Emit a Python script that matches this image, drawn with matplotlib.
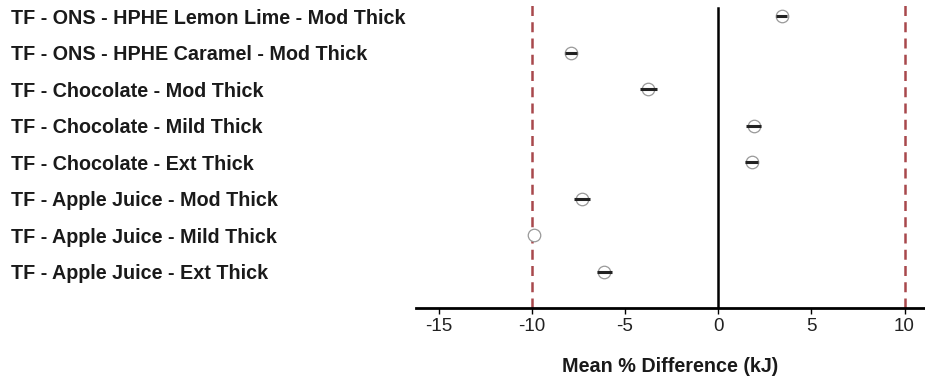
import matplotlib.pyplot as plt

# rows listed bottom to top
labels = [
    "TF - Apple Juice - Ext Thick",
    "TF - Apple Juice - Mild Thick",
    "TF - Apple Juice - Mod Thick",
    "TF - Chocolate - Ext Thick",
    "TF - Chocolate - Mild Thick",
    "TF - Chocolate - Mod Thick",
    "TF - ONS - HPHE Caramel - Mod Thick",
    "TF - ONS - HPHE Lemon Lime - Mod Thick",
]
mean_diff = [-6.1, -9.9, -7.3, 1.8, 1.9, -3.75, -7.9, 3.4]
err = [0.4, 0.0, 0.45, 0.35, 0.4, 0.45, 0.3, 0.3]
limits = [-10, 10]
xticks = [-15, -10, -5, 0, 5, 10]

plt.rcParams['font.family'] = ['Liberation Sans', 'DejaVu Sans']

fig = plt.figure(figsize=(9.25, 3.9), dpi=100)
ax = fig.add_axes([0.45, 0.21, 0.55, 0.79])

ypos = list(range(len(labels)))

for lim in limits:
    ax.axvline(lim, color='#a8484c', linestyle=(0, (4, 2.5)), linewidth=1.8, ymax=0.985)
ax.axvline(0, color='black', linewidth=1.8, ymax=0.975)

for y, m, e in zip(ypos, mean_diff, err):
    ax.plot(m, y, 'o', markersize=9, markerfacecolor='white',
            markeredgecolor='#999999', markeredgewidth=0.9, zorder=3)
    if e > 0:
        ax.errorbar(m, y, xerr=e, fmt='none', ecolor='#222222',
                    elinewidth=2.2, capsize=0, zorder=4)

ax.set_xlim(-16.2, 11.1)
ax.set_ylim(-1, 7.45)
ax.set_xticks(xticks)
ax.set_xticklabels([str(t) for t in xticks], fontsize=13.5, color='#222222')
ax.set_yticks(ypos)
ax.set_yticklabels(labels, fontsize=14.2, fontweight='bold', ha='left', color='#1a1a1a')
ax.tick_params(axis='y', length=0, pad=292)
ax.tick_params(axis='x', length=4, width=1, direction='out', pad=3)

for s in ['top', 'right', 'left']:
    ax.spines[s].set_visible(False)
ax.spines['bottom'].set_linewidth(2)

ax.set_xlabel('Mean % Difference (kJ)', fontsize=14.2, fontweight='bold', labelpad=16,
              color='#1a1a1a')

fig.savefig('out.png', dpi=100)
